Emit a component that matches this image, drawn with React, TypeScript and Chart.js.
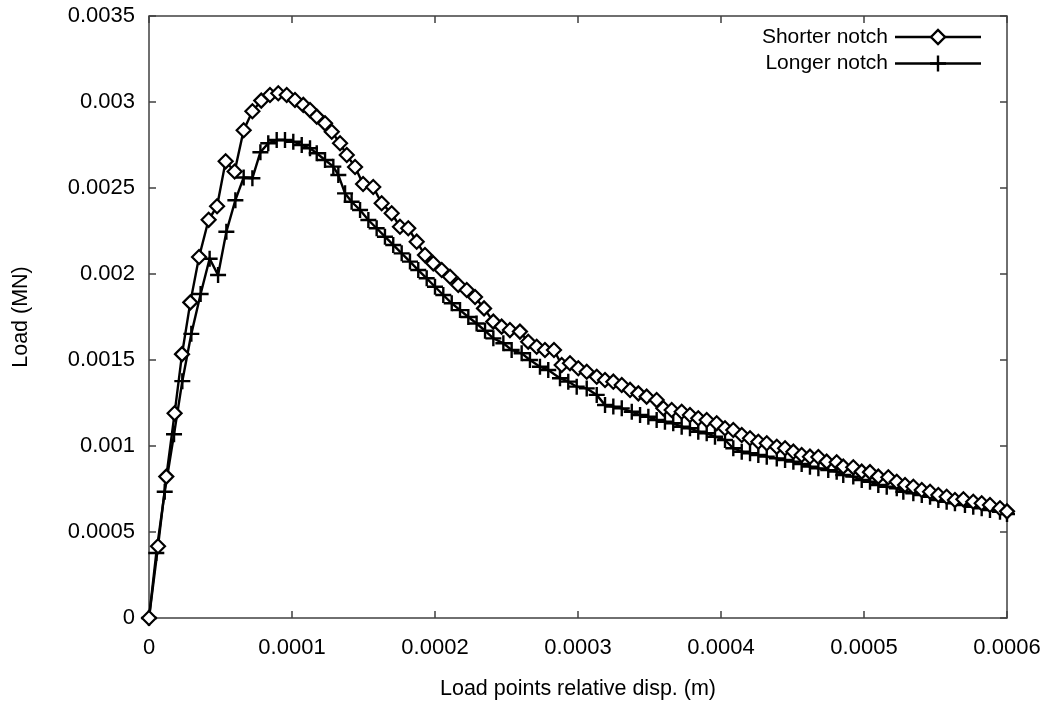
import React, { useEffect, useRef } from 'react';
import { Chart, registerables } from 'chart.js';

Chart.register(...registerables);

// ---- Data (displacement in 1e-4 m, load in 1e-3 MN) ----
const DISP_UNIT = 1e-4;
const LOAD_UNIT = 1e-3;

const seriesNames = ['Shorter notch', 'Longer notch'];

const shorterDisp = [
  0, 0.063, 0.121, 0.179, 0.231, 0.289, 0.350, 0.417, 0.476, 0.536,
  0.599, 0.662, 0.723, 0.785, 0.846, 0.904, 0.963, 1.021, 1.079, 1.126,
  1.173, 1.231, 1.278, 1.336, 1.383, 1.441, 1.497, 1.568, 1.627, 1.697,
  1.755, 1.813, 1.872, 1.930, 1.988, 2.047, 2.105, 2.163, 2.222, 2.280,
  2.343, 2.408, 2.466, 2.524, 2.594, 2.652, 2.711, 2.769, 2.832, 2.886,
  2.944, 3.002, 3.061, 3.131, 3.189, 3.247, 3.306, 3.364, 3.422, 3.480,
  3.550, 3.597, 3.655, 3.725, 3.783, 3.841, 3.900, 3.970, 4.028, 4.086,
  4.145, 4.203, 4.261, 4.320, 4.390, 4.448, 4.506, 4.564, 4.622, 4.681,
  4.739, 4.809, 4.855, 4.925, 4.984, 5.042, 5.100, 5.170, 5.229, 5.287,
  5.345, 5.404, 5.462, 5.520, 5.578, 5.636, 5.695, 5.764, 5.823, 5.881,
  5.951, 6.000,
];
const shorterLoad = [
  0, 0.417, 0.822, 1.190, 1.534, 1.835, 2.099, 2.315, 2.394, 2.655,
  2.596, 2.836, 2.946, 3.008, 3.041, 3.051, 3.041, 3.012, 2.983, 2.953,
  2.915, 2.876, 2.827, 2.760, 2.692, 2.622, 2.523, 2.506, 2.411, 2.353,
  2.275, 2.266, 2.188, 2.110, 2.062, 2.023, 1.984, 1.936, 1.907, 1.866,
  1.800, 1.723, 1.694, 1.674, 1.665, 1.606, 1.577, 1.558, 1.558, 1.471,
  1.481, 1.452, 1.432, 1.403, 1.384, 1.374, 1.355, 1.326, 1.306, 1.287,
  1.267, 1.219, 1.209, 1.199, 1.180, 1.161, 1.151, 1.132, 1.103, 1.093,
  1.064, 1.045, 1.025, 1.016, 0.996, 0.987, 0.967, 0.948, 0.938, 0.936,
  0.909, 0.905, 0.880, 0.876, 0.851, 0.848, 0.822, 0.818, 0.792, 0.773,
  0.763, 0.744, 0.734, 0.715, 0.705, 0.686, 0.690, 0.676, 0.667, 0.657,
  0.638, 0.620,
];

const longerDisp = [
  0, 0.051, 0.110, 0.175, 0.233, 0.296, 0.361, 0.424, 0.483, 0.541,
  0.604, 0.662, 0.723, 0.779, 0.834, 0.893, 0.951, 1.009, 1.068, 1.126,
  1.173, 1.231, 1.289, 1.324, 1.371, 1.417, 1.476, 1.534, 1.592, 1.650,
  1.708, 1.767, 1.825, 1.883, 1.942, 2.000, 2.058, 2.117, 2.175, 2.233,
  2.291, 2.350, 2.408, 2.478, 2.536, 2.606, 2.664, 2.734, 2.792, 2.874,
  2.932, 2.991, 3.061, 3.131, 3.189, 3.247, 3.306, 3.376, 3.434, 3.492,
  3.550, 3.608, 3.666, 3.725, 3.783, 3.841, 3.900, 3.958, 4.028, 4.086,
  4.145, 4.203, 4.261, 4.320, 4.390, 4.448, 4.506, 4.564, 4.622, 4.681,
  4.750, 4.809, 4.855, 4.925, 4.984, 5.042, 5.100, 5.159, 5.229, 5.275,
  5.345, 5.404, 5.462, 5.520, 5.578, 5.636, 5.706, 5.764, 5.823, 5.881,
  5.951, 6.000,
];
const longerLoad = [
  0, 0.378, 0.734, 1.068, 1.377, 1.652, 1.884, 2.089, 1.994, 2.246,
  2.429, 2.561, 2.557, 2.708, 2.760, 2.779, 2.779, 2.769, 2.750, 2.731,
  2.702, 2.663, 2.624, 2.576, 2.469, 2.420, 2.372, 2.314, 2.266, 2.217,
  2.169, 2.120, 2.072, 2.023, 1.975, 1.926, 1.878, 1.830, 1.790, 1.750,
  1.712, 1.670, 1.626, 1.597, 1.558, 1.539, 1.500, 1.461, 1.442, 1.394,
  1.374, 1.345, 1.335, 1.297, 1.238, 1.229, 1.219, 1.199, 1.180, 1.170,
  1.151, 1.141, 1.132, 1.112, 1.103, 1.083, 1.074, 1.054, 1.035, 0.987,
  0.967, 0.958, 0.948, 0.938, 0.928, 0.919, 0.909, 0.895, 0.880, 0.870,
  0.860, 0.851, 0.831, 0.822, 0.802, 0.792, 0.773, 0.763, 0.754, 0.734,
  0.725, 0.715, 0.705, 0.686, 0.676, 0.667, 0.657, 0.647, 0.638, 0.628,
  0.618, 0.605,
];

const xTickValues = [0, 0.0001, 0.0002, 0.0003, 0.0004, 0.0005, 0.0006];
const xTickLabels = ['0', '0.0001', '0.0002', '0.0003', '0.0004', '0.0005', '0.0006'];
const yTickValues = [0, 0.0005, 0.001, 0.0015, 0.002, 0.0025, 0.003, 0.0035];
const yTickLabels = ['0', '0.0005', '0.001', '0.0015', '0.002', '0.0025', '0.003', '0.0035'];

const FONT = '"Liberation Sans", Arial, sans-serif';
const AXIS_COLOR = '#404040';

function toPoints(xs: number[], ys: number[]) {
  return xs.map((x, i) => ({ x: x * DISP_UNIT, y: ys[i] * LOAD_UNIT }));
}

function drawDiamond(ctx: CanvasRenderingContext2D, x: number, y: number, r: number) {
  ctx.beginPath();
  ctx.moveTo(x - r, y);
  ctx.lineTo(x, y - r);
  ctx.lineTo(x + r, y);
  ctx.lineTo(x, y + r);
  ctx.closePath();
  ctx.fillStyle = '#fff';
  ctx.fill();
  ctx.stroke();
}

function drawCross(ctx: CanvasRenderingContext2D, x: number, y: number, r: number) {
  ctx.beginPath();
  ctx.moveTo(x - r, y);
  ctx.lineTo(x + r, y);
  ctx.moveTo(x, y - r);
  ctx.lineTo(x, y + r);
  ctx.stroke();
}

const frameTicksPlugin = {
  id: 'frameTicks',
  beforeDatasetsDraw(chart: any) {
    const { ctx, chartArea } = chart;
    const { left, right, top, bottom } = chartArea;
    const xs = chart.scales.x;
    const ys = chart.scales.y;
    const tl = 7;
    ctx.save();
    ctx.strokeStyle = AXIS_COLOR;
    ctx.lineWidth = 1.5;
    ctx.strokeRect(left, top, right - left, bottom - top);
    ctx.beginPath();
    xTickValues.forEach((v) => {
      const px = xs.getPixelForValue(v);
      ctx.moveTo(px, bottom);
      ctx.lineTo(px, bottom - tl);
      ctx.moveTo(px, top);
      ctx.lineTo(px, top + tl);
    });
    yTickValues.forEach((v) => {
      const py = ys.getPixelForValue(v);
      ctx.moveTo(left, py);
      ctx.lineTo(left + tl, py);
      ctx.moveTo(right, py);
      ctx.lineTo(right - tl, py);
    });
    ctx.stroke();
    ctx.restore();
  },
};

const legendPlugin = {
  id: 'gnuLegend',
  afterDraw(chart: any) {
    const { ctx, chartArea } = chart;
    const textRight = chartArea.right - 119;
    const lineStart = chartArea.right - 112;
    const lineEnd = chartArea.right - 26;
    const mid = (lineStart + lineEnd) / 2;
    ctx.save();
    ctx.font = `21px ${FONT}`;
    ctx.textAlign = 'right';
    ctx.textBaseline = 'middle';
    seriesNames.forEach((name, i) => {
      const y = chartArea.top + 21 + i * 26.5;
      ctx.fillStyle = '#000';
      ctx.fillText(name, textRight, y);
      ctx.strokeStyle = '#000';
      ctx.lineWidth = 2.4;
      ctx.beginPath();
      ctx.moveTo(lineStart, y);
      ctx.lineTo(lineEnd, y);
      ctx.stroke();
      if (i === 0) drawDiamond(ctx, mid, y, 7);
      else drawCross(ctx, mid, y, 8);
    });
    ctx.restore();
  },
};

export default function App() {
  const canvasRef = useRef<HTMLCanvasElement | null>(null);

  useEffect(() => {
    const canvas = canvasRef.current;
    if (!canvas) return;
    const tickFont = { family: FONT, size: 22 };
    const titleFont = { family: FONT, size: 21.5 };
    const chart = new Chart(canvas, {
      type: 'scatter',
      data: {
        datasets: [
          {
            label: seriesNames[0],
            data: toPoints(shorterDisp, shorterLoad),
            showLine: true,
            borderColor: '#000',
            borderWidth: 2.4,
            tension: 0,
            pointStyle: 'rectRot',
            pointRadius: 7,
            pointBorderWidth: 2.2,
            pointBorderColor: '#000',
            pointBackgroundColor: '#fff',
            clip: false,
          } as any,
          {
            label: seriesNames[1],
            data: toPoints(longerDisp, longerLoad),
            showLine: true,
            borderColor: '#000',
            borderWidth: 2.4,
            tension: 0,
            pointStyle: 'cross',
            pointRadius: 8,
            pointBorderWidth: 2.4,
            pointBorderColor: '#000',
            pointBackgroundColor: '#000',
            clip: false,
          } as any,
        ],
      },
      options: {
        responsive: false,
        animation: false,
        devicePixelRatio: 1,
        layout: { autoPadding: false, padding: { top: 16, right: 42, left: 0, bottom: 0 } },
        plugins: {
          legend: { display: false },
          tooltip: { enabled: false },
        },
        scales: {
          x: {
            type: 'linear',
            min: 0,
            max: 0.0006,
            afterBuildTicks: (s: any) => {
              s.ticks = xTickValues.map((v) => ({ value: v }));
            },
            afterFit: (s: any) => {
              s.height = 89;
              s.paddingLeft = 0;
              s.paddingRight = 0;
              s.paddingTop = 0;
              s.paddingBottom = 0;
            },
            ticks: {
              callback: (_v: any, i: number) => xTickLabels[i],
              font: tickFont,
              color: '#000',
              padding: 17,
              maxRotation: 0,
              autoSkip: false,
            },
            grid: { display: false, drawTicks: false },
            border: { display: false },
            title: {
              display: true,
              text: 'Load points relative disp. (m)',
              font: titleFont,
              color: '#000',
              padding: { top: 0, bottom: 5 },
            },
          },
          y: {
            type: 'linear',
            min: 0,
            max: 0.0035,
            afterBuildTicks: (s: any) => {
              s.ticks = yTickValues.map((v) => ({ value: v }));
            },
            afterFit: (s: any) => {
              s.width = 149;
              s.paddingLeft = 0;
              s.paddingRight = 0;
              s.paddingTop = 0;
              s.paddingBottom = 0;
            },
            ticks: {
              callback: (_v: any, i: number) => yTickLabels[i],
              font: tickFont,
              color: '#000',
              padding: 14,
              autoSkip: false,
            },
            grid: { display: false, drawTicks: false },
            border: { display: false },
            title: {
              display: true,
              text: 'Load (MN)',
              font: titleFont,
              color: '#000',
              padding: { top: 8, bottom: 0 },
            },
          },
        },
      } as any,
      plugins: [frameTicksPlugin, legendPlugin],
    });
    return () => chart.destroy();
  }, []);

  return (
    <div style={{ position: 'absolute', left: 0, top: 0, width: 1049, height: 707, background: '#fff' }}>
      <canvas ref={canvasRef} width={1049} height={707} style={{ display: 'block' }} />
    </div>
  );
}
